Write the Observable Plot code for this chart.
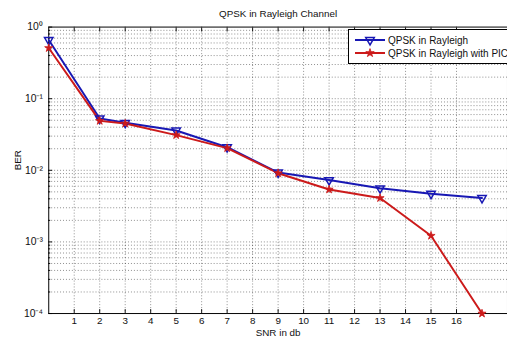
<!DOCTYPE html>
<html>
<head>
<meta charset="utf-8">
<script src="https://cdn.jsdelivr.net/npm/d3@7"></script>
<script src="https://cdn.jsdelivr.net/npm/@observablehq/plot@0.6"></script>
<style>
  html, body { margin: 0; padding: 0; background: #fff; overflow: hidden; width: 507px; height: 343px; }
  #wrap { position: relative; width: 507px; height: 343px; overflow: hidden; }
  #wrap > svg { display: block; }
  #legend { position: absolute; left: 348px; top: 29px; width: 175px; height: 33px; border: 1px solid #000; background: #fff;
            font: 10px "Liberation Sans", Arial, sans-serif; color: #111; }
  .row { position: absolute; left: 5px; height: 14px; display: flex; align-items: center; }
  .row svg { margin-right: 2px; }
</style>
</head>
<body>
<div id="wrap"></div>
<script>
const snr = [0, 2, 3, 5, 7, 9, 11, 13, 15, 17];
const berRayleigh = [0.66, 0.053, 0.046, 0.036, 0.021, 0.0093, 0.0073, 0.0056, 0.0047, 0.0041];
const berPIC = [0.51, 0.049, 0.045, 0.031, 0.0204, 0.0091, 0.0054, 0.0041, 0.00122, 0.0001];
const seriesNames = ["QPSK in Rayleigh", "QPSK in Rayleigh with PIC"];
const seriesColors = ["#1818b4", "#cc1a1a"];
const xTicks = [1, 2, 3, 4, 5, 6, 7, 8, 9, 10, 11, 12, 13, 14, 15, 16];
const yTicks = [1e-4, 1e-3, 1e-2, 1e-1, 1];
const yTickLabels = ["10\u207B\u2074", "10\u207B\u00B3", "10\u207B\u00B2", "10\u207B\u00B9", "10\u2070"];
const titleText = "QPSK in Rayleigh Channel";
const xLabel = "SNR in db";
const yLabel = "BER";

const rowsA = snr.map((x, i) => ({x, y: berRayleigh[i]}));
const rowsB = snr.map((x, i) => ({x, y: berPIC[i]}));
const minorY = [];
for (let e = -4; e < 0; e++) for (let m = 2; m <= 9; m++) minorY.push(m * Math.pow(10, e));
const labelOf = new Map(yTicks.map((t, i) => [t, yTickLabels[i]]));

const grid = {stroke: "#000", strokeOpacity: 0.45, strokeDasharray: "1,2"};

const chart = Plot.plot({
  width: 515,
  height: 343,
  marginLeft: 49,
  marginRight: 0,
  marginTop: 27,
  marginBottom: 25,
  style: {fontFamily: "'Liberation Sans', Arial, sans-serif", fontSize: "10px", color: "#111", background: "#fff"},
  x: {domain: [0, 18]},
  y: {type: "log", domain: [1e-4, 1]},
  marks: [
    Plot.gridX(xTicks, grid),
    Plot.gridY(minorY, grid),
    Plot.gridY(yTicks.slice(1, -1), grid),
    Plot.axisX({ticks: xTicks, tickSize: 0, tickPadding: 4, label: null, tickFormat: d => String(d), fontSize: 10}),
    Plot.axisX({ticks: xTicks, tickSize: -4, tickFormat: () => "", label: null}),
    Plot.axisX({ticks: xTicks, anchor: "top", tickSize: -4, tickFormat: () => "", label: null}),
    Plot.axisY({ticks: yTicks, tickSize: 0, tickPadding: 6, tickFormat: d => labelOf.get(d) ?? "", label: null, fontSize: 10.5}),
    Plot.axisY({ticks: yTicks, tickSize: -4, tickFormat: () => "", label: null}),
    Plot.axisY({ticks: minorY, tickSize: -2, tickFormat: () => "", label: null}),
    Plot.frame({stroke: "#000"}),
    Plot.line(rowsA, {x: "x", y: "y", stroke: seriesColors[0], strokeWidth: 2}),
    Plot.line(rowsB, {x: "x", y: "y", stroke: seriesColors[1], strokeWidth: 2}),
    Plot.dot(rowsA, {x: "x", y: "y", symbol: "triangle", rotate: 180, r: 3.2, stroke: seriesColors[0], strokeWidth: 1.5, fill: "none"}),
    Plot.dot(rowsB, {x: "x", y: "y", symbol: "star", r: 2.6, fill: seriesColors[1], stroke: seriesColors[1], strokeWidth: 0.8}),
    Plot.text([titleText], {frameAnchor: "top", lineAnchor: "middle", dy: -13, text: d => d, fontSize: 10, fill: "#111"}),
    Plot.text([xLabel], {frameAnchor: "bottom", lineAnchor: "middle", dy: 20, text: d => d, fontSize: 10, fill: "#111"}),
    Plot.text([yLabel], {frameAnchor: "left", dx: -31, rotate: -90, text: d => d, fontSize: 10, fill: "#111"})
  ]
});
const wrap = document.getElementById("wrap");
wrap.appendChild(chart);

// Legend
const legend = document.createElement("div");
legend.id = "legend";
seriesNames.forEach((name, i) => {
  const row = document.createElement("div");
  row.className = "row";
  row.style.top = (i === 0 ? 3 : 16) + "px";
  const s = d3.create("svg").attr("width", 32).attr("height", 14);
  s.append("line").attr("x1", 1).attr("x2", 31).attr("y1", 7).attr("y2", 7).attr("stroke", seriesColors[i]).attr("stroke-width", 2);
  if (i === 0) {
    s.append("path").attr("d", d3.symbol(d3.symbolTriangle, 32)()).attr("transform", "translate(16,7) rotate(180)")
      .attr("fill", "none").attr("stroke", seriesColors[i]).attr("stroke-width", 1.5);
  } else {
    s.append("path").attr("d", d3.symbol(d3.symbolStar, 22)()).attr("transform", "translate(16,7)")
      .attr("fill", seriesColors[i]).attr("stroke", seriesColors[i]).attr("stroke-width", 0.8);
  }
  row.appendChild(s.node());
  const t = document.createElement("span");
  t.textContent = name;
  row.appendChild(t);
  legend.appendChild(row);
});
wrap.appendChild(legend);
</script>
</body>
</html>
